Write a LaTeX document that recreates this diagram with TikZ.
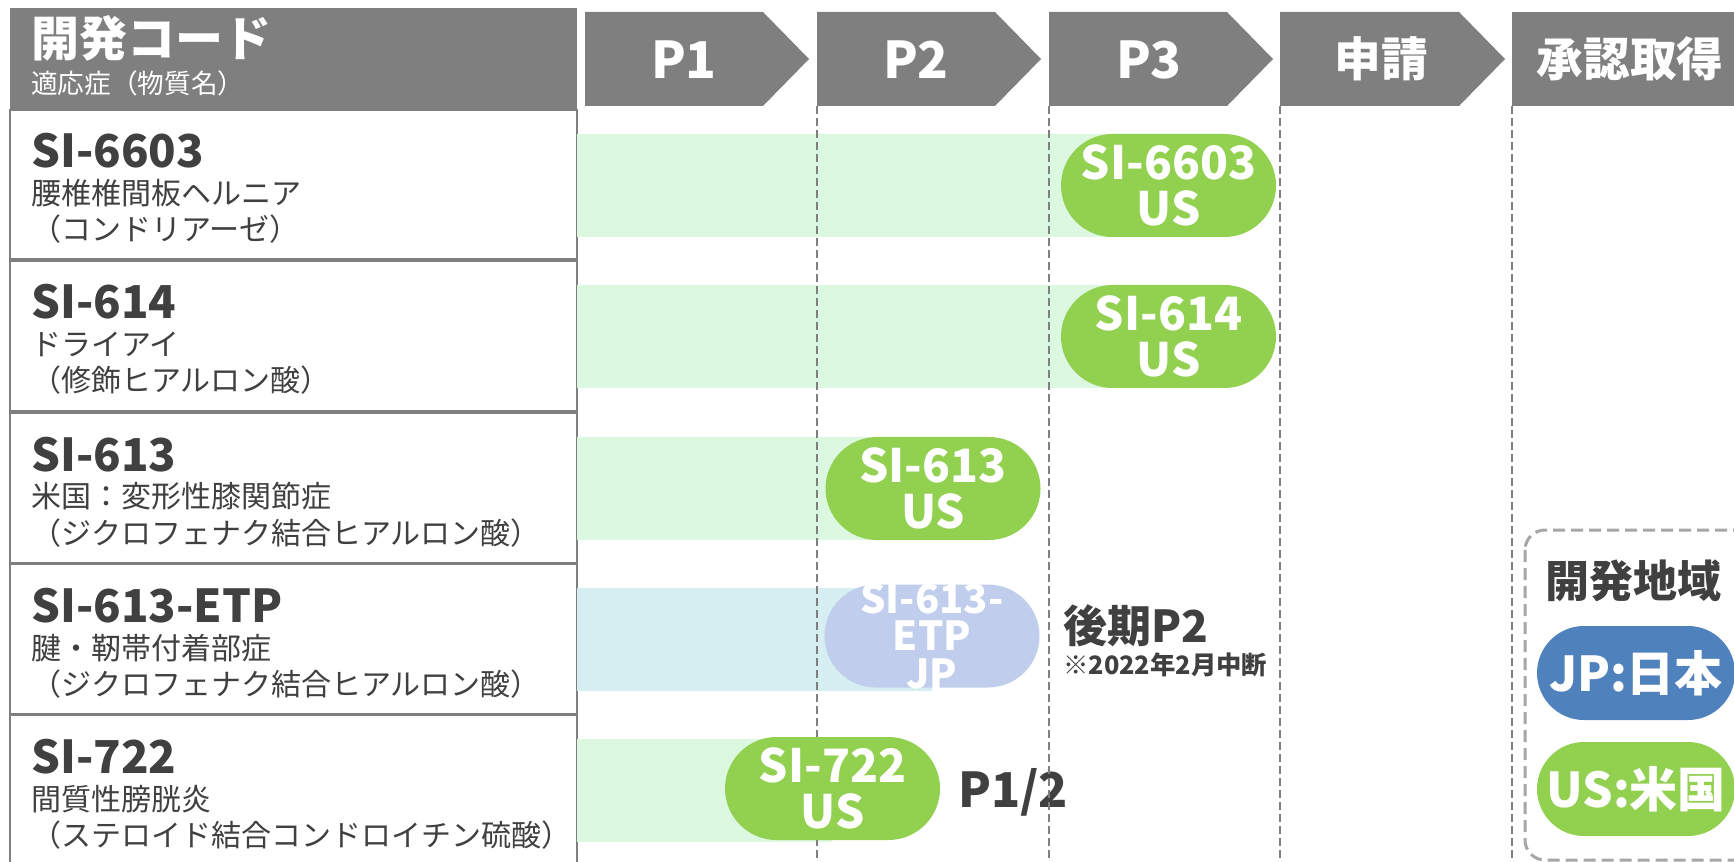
\documentclass[tikz,border=0pt]{standalone}
\usepackage{fontspec}
\setmainfont{Noto Sans CJK JP}
\usetikzlibrary{shapes.misc}
\definecolor{hdr}{HTML}{7F7F7F}
\definecolor{txt}{HTML}{404040}
\definecolor{bandg}{HTML}{DDF8E0}
\definecolor{bandb}{HTML}{D6EDF1}
\definecolor{pillg}{HTML}{92D050}
\definecolor{pilletp}{HTML}{C1CDEC}
\definecolor{pillb}{HTML}{4F81BD}
\definecolor{lgd}{HTML}{A6A6A6}
\begin{document}
\begin{tikzpicture}[x=0.75pt,y=-0.75pt,
  rowbox/.style={draw=hdr,line width=1.5pt,fill=white},
  chev/.style={fill=hdr},
  chevtxt/.style={anchor=base,text=white,inner sep=0,font=\bfseries\fontsize{38}{38}\selectfont},
  chevjp/.style={anchor=base,text=white,inner sep=0,font=\bfseries\fontsize{35}{35}\selectfont},
  code/.style={anchor=base west,text=txt,inner sep=0,font=\bfseries\fontsize{34}{34}\selectfont},
  desc/.style={anchor=base west,text=txt,inner sep=0,font=\fontsize{22.5}{22.5}\selectfont},
  band/.style={fill=#1},
  pill/.style={rounded rectangle,fill=#1,inner sep=0,minimum width=161.25pt,minimum height=77.25pt},
  pilltxt/.style={text=white,inner sep=0,align=center,font=\bfseries\fontsize{34.5}{34}\selectfont},
  colline/.style={draw=hdr,line width=1.5pt,dash pattern=on 6pt off 3pt},
  note/.style={anchor=base west,text=txt,inner sep=0},
  lgdpill/.style={rounded rectangle,fill=#1,inner sep=0,minimum width=148.5pt,minimum height=70.5pt},
  lgdtxt/.style={text=white,inner sep=0,font=\bfseries\fontsize{36}{36}\selectfont}
]
\useasboundingbox (0,0) rectangle (1734,862);
\clip (0,0) rectangle (1734,862);

% ---- left table ----
\fill[hdr] (10,8) rectangle (577,110);
\node[anchor=base west,text=white,inner sep=0,font=\bfseries\fontsize{36}{36}\selectfont] (hcode) at (31,57) {開発コード};
\node[anchor=base west,text=white,inner sep=0,font=\fontsize{20}{20}\selectfont] (hsub) at (31,94) {適応症（物質名）};

\draw[rowbox] (10,110) rectangle (577,259);
\draw[rowbox] (10,261) rectangle (577,411);
\draw[rowbox] (10,413) rectangle (577,563);
\draw[rowbox] (10,564) rectangle (577,714);
\draw[rowbox] (10,715) rectangle (577,880);

\node[code] (c1) at (31,168) {SI-6603};
\node[desc] (d1a) at (31,205) {腰椎椎間板ヘルニア};
\node[desc] (d1b) at (31,241) {（コンドリアーゼ）};

\node[code] (c2) at (31,319) {SI-614};
\node[desc] (d2a) at (31,356) {ドライアイ};
\node[desc] (d2b) at (31,392) {（修飾ヒアルロン酸）};

\node[code] (c3) at (31,471) {SI-613};
\node[desc] (d3a) at (31,508) {米国：変形性膝関節症};
\node[desc] (d3b) at (31,544) {（ジクロフェナク結合ヒアルロン酸）};

\node[code] (c4) at (31,622) {SI-613-ETP};
\node[desc] (d4a) at (31,659) {腱・靭帯付着部症};
\node[desc] (d4b) at (31,695) {（ジクロフェナク結合ヒアルロン酸）};

\node[code] (c5) at (31,773) {SI-722};
\node[desc] (d5a) at (31,810) {間質性膀胱炎};
\node[desc] (d5b) at (31,846) {（ステロイド結合コンドロイチン硫酸）};

% ---- phase chevrons ----
\fill[chev] (585,12) -- (763,12) -- (809,59) -- (763,106) -- (585,106) -- cycle;
\fill[chev] (817,12) -- (995,12) -- (1041,59) -- (995,106) -- (817,106) -- cycle;
\fill[chev] (1049,12) -- (1227,12) -- (1273,59) -- (1227,106) -- (1049,106) -- cycle;
\fill[chev] (1280,12) -- (1459,12) -- (1505,59) -- (1459,106) -- (1280,106) -- cycle;
\fill[chev] (1512,12) rectangle (1750,106);
\node[chevtxt] (ph1) at (684,79) {P1};
\node[chevtxt] (ph2) at (916,79) {P2};
\node[chevtxt] (ph3) at (1149,79) {P3};
\node[chevjp] (ph4) at (1381,77) {申請};
\node[chevjp] (ph5) at (1630,77) {承認取得};

% ---- bands ----
\fill[band=bandg] (577,134) rectangle (1168,237);
\fill[band=bandg] (577,285) rectangle (1168,388);
\fill[band=bandg] (577,437) rectangle (933,540);
\fill[band=bandb] (577,588) rectangle (932,691);
\fill[band=bandg] (577,739) rectangle (832,842);

% ---- side notes ----
\node[note,font=\bfseries\fontsize{33}{33}\selectfont] (late) at (1063,642) {後期P2};
\node[note,font=\bfseries\fontsize{19}{19}\selectfont] (stop) at (1063,674) {※2022年2月中断};
\node[note,font=\bfseries\fontsize{36}{36}\selectfont] (p12) at (958,807) {P1/2};

% ---- column dashed lines ----
\coordinate (v1t) at (817,106); \coordinate (v1b) at (817,862);
\coordinate (v2t) at (1049,106); \coordinate (v2b) at (1049,862);
\coordinate (v3t) at (1280,106); \coordinate (v3b) at (1280,862);
\coordinate (v4t) at (1512,106); \coordinate (v4b) at (1512,862);
\draw[colline] (v1t) -- (v1b);
\draw[colline] (v2t) -- (v2b);
\draw[colline] (v3t) -- (v3b);
\draw[colline] (v4t) -- (v4b);

% ---- pills ----
\node[pill=pillg] (q1) at (1168.5,185.5) {};
\node[pilltxt] (q1t) at (q1.center) {SI-6603\\US};
\node[pill=pillg] (q2) at (1168.5,336.5) {};
\node[pilltxt] (q2t) at (q2.center) {SI-614\\US};
\node[pill=pillg] (q3) at (933,488.5) {};
\node[pilltxt] (q3t) at (q3.center) {SI-613\\US};
\node[pill=pilletp] (q4) at (932,636) {};
\node[pilltxt,font=\bfseries\fontsize{30}{28}\selectfont] (q4t) at (q4.center) {SI-613-\\ETP\\JP};
\node[pill=pillg] (q5) at (832.5,788.5) {};
\node[pilltxt] (q5t) at (q5.center) {SI-722\\US};

% ---- legend ----
\draw[draw=lgd,line width=2.25pt,dash pattern=on 9pt off 4.5pt,rounded corners=15pt] (1525,530) rectangle (1760,860);
\node[anchor=base,text=txt,inner sep=0,font=\bfseries\fontsize{33}{33}\selectfont] (lt) at (1633,597) {開発地域};
\node[lgdpill=pillb] (ljp) at (1636,673) {};
\node[lgdtxt] (ljpt) at (ljp.center) {JP:日本};
\node[lgdpill=pillg] (lus) at (1636,789) {};
\node[lgdtxt] (lust) at (lus.center) {US:米国};
\end{tikzpicture}
\end{document}
